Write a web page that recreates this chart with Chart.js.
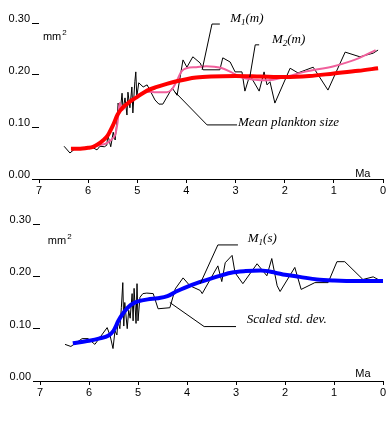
<!DOCTYPE html>
<html>
<head>
<meta charset="utf-8">
<script src="https://cdn.jsdelivr.net/npm/chart.js@4"></script>
<style>
  body { margin: 0; background: #fff; }
  #wrap { position: relative; width: 391px; height: 432px; }
  canvas { position: absolute; left: 0; }
</style>
</head>
<body>
<div id="wrap">
  <canvas id="topChart" width="391" height="200" style="top:0"></canvas>
  <canvas id="bottomChart" width="391" height="231" style="top:201px"></canvas>
</div>
<script>
// ages in Ma, sizes in mm^2
const ageTicks = [7, 6, 5, 4, 3, 2, 1, 0];
const sizeTicks = [0, 0.1, 0.2, 0.3];

const meanAge = [6.49, 6.37, 6.27, 6.10, 6.00, 5.90, 5.82, 5.76, 5.67, 5.62, 5.60, 5.54, 5.49, 5.45, 5.41, 5.39, 5.35, 5.31, 5.29, 5.25, 5.21, 5.19, 5.15, 5.11, 5.09, 5.05, 5.03, 5.01, 4.97, 4.88, 4.80, 4.64, 4.56, 4.48, 4.29, 4.19, 4.07, 3.99, 3.87, 3.72, 3.66, 3.32, 3.26, 3.11, 3.01, 2.87, 2.81, 2.71, 2.52, 2.42, 2.36, 2.30, 2.20, 1.89, 1.73, 1.42, 1.12, 0.77, 0.47, 0.20, 0.10];
const meanSize = [0.063, 0.050, 0.058, 0.060, 0.062, 0.060, 0.056, 0.063, 0.062, 0.065, 0.085, 0.062, 0.090, 0.075, 0.117, 0.146, 0.127, 0.165, 0.133, 0.156, 0.123, 0.167, 0.137, 0.177, 0.127, 0.187, 0.206, 0.158, 0.185, 0.177, 0.181, 0.152, 0.144, 0.144, 0.175, 0.161, 0.229, 0.215, 0.235, 0.223, 0.210, 0.210, 0.233, 0.225, 0.206, 0.206, 0.169, 0.200, 0.169, 0.206, 0.181, 0.187, 0.146, 0.213, 0.204, 0.215, 0.171, 0.244, 0.235, 0.242, 0.248];

const m1mAge = [6.35, 6.2, 6.0, 5.9, 5.8, 5.7, 5.6, 5.5, 5.4, 5.3, 5.2, 5.1, 5.0, 4.8, 4.6, 4.4, 4.2, 4.0, 3.8, 3.5, 3.0, 2.5, 2.0, 1.5, 1.0, 0.5, 0.1];
const m1m = [0.058, 0.058, 0.060, 0.062, 0.067, 0.074, 0.084, 0.102, 0.124, 0.137, 0.145, 0.152, 0.158, 0.170, 0.177, 0.183, 0.188, 0.192, 0.195, 0.197, 0.198, 0.197, 0.196, 0.198, 0.203, 0.208, 0.213];

const m2mAge = [6.3, 6.0, 5.8, 5.6, 5.5, 5.45, 5.4, 5.36, 5.31, 5.2, 5.0, 4.9, 4.8, 4.6, 4.4, 4.3, 4.2, 4.1, 4.0, 3.8, 3.6, 3.3, 3.1, 2.9, 2.6, 2.35, 2.0, 1.6, 1.0, 0.5, 0.15];
const m2m = [0.058, 0.060, 0.064, 0.070, 0.078, 0.085, 0.110, 0.146, 0.133, 0.145, 0.160, 0.166, 0.168, 0.167, 0.167, 0.172, 0.188, 0.207, 0.213, 0.215, 0.217, 0.214, 0.206, 0.196, 0.191, 0.190, 0.196, 0.206, 0.217, 0.232, 0.248];

const stdAge = [6.49, 6.37, 6.14, 6.02, 5.88, 5.63, 5.57, 5.51, 5.47, 5.43, 5.41, 5.37, 5.34, 5.31, 5.29, 5.27, 5.22, 5.19, 5.16, 5.12, 5.10, 5.08, 5.04, 5.02, 5.00, 4.96, 4.90, 4.82, 4.69, 4.59, 4.35, 4.24, 4.08, 3.94, 3.73, 3.69, 3.37, 3.29, 3.22, 3.08, 3.02, 2.86, 2.57, 2.37, 2.27, 2.16, 2.10, 1.80, 1.67, 1.39, 1.12, 0.94, 0.78, 0.41, 0.20, 0.06];
const stdSize = [0.070, 0.066, 0.081, 0.081, 0.070, 0.102, 0.087, 0.062, 0.096, 0.088, 0.115, 0.100, 0.140, 0.188, 0.105, 0.150, 0.100, 0.135, 0.120, 0.167, 0.115, 0.177, 0.110, 0.186, 0.115, 0.160, 0.167, 0.168, 0.167, 0.138, 0.140, 0.176, 0.197, 0.182, 0.173, 0.167, 0.220, 0.190, 0.226, 0.240, 0.207, 0.186, 0.224, 0.201, 0.234, 0.182, 0.171, 0.217, 0.175, 0.188, 0.188, 0.228, 0.228, 0.194, 0.199, 0.192];

const m1sAge = [6.33, 6.0, 5.8, 5.6, 5.5, 5.4, 5.3, 5.2, 5.1, 5.0, 4.8, 4.6, 4.4, 4.2, 4.0, 3.8, 3.5, 3.1, 2.8, 2.5, 2.2, 2.0, 1.7, 1.35, 1.0, 0.5, 0.0];
const m1s = [0.072, 0.077, 0.081, 0.087, 0.096, 0.115, 0.130, 0.141, 0.148, 0.152, 0.156, 0.158, 0.162, 0.172, 0.180, 0.187, 0.196, 0.207, 0.210, 0.211, 0.207, 0.203, 0.199, 0.194, 0.192, 0.191, 0.191];

const pairs = (xs, ys) => xs.map((x, i) => ({ x: x, y: ys[i] }));

const serif = "italic 13px 'Liberation Serif', 'DejaVu Serif', serif";
const sans = "11px 'Liberation Sans', Arial, sans-serif";

// labels with leader lines, positioned in data units
function notesPlugin(notes, unit, maPos) {
  return {
    id: "notes",
    afterDatasetsDraw(chart) {
      const ctx = chart.ctx;
      const xs = chart.scales.x, ys = chart.scales.y;
      ctx.save();
      ctx.strokeStyle = "#000";
      ctx.lineWidth = 1;
      ctx.fillStyle = "#000";
      notes.forEach(n => {
        ctx.beginPath();
        n.path.forEach((p, i) => {
          const px = xs.getPixelForValue(p[0]), py = ys.getPixelForValue(p[1]);
          if (i === 0) ctx.moveTo(px, py); else ctx.lineTo(px, py);
        });
        ctx.stroke();
        let tx = xs.getPixelForValue(n.at[0]);
        const ty = ys.getPixelForValue(n.at[1]);
        ctx.textBaseline = "alphabetic";
        ctx.textAlign = "left";
        n.parts.forEach(part => {
          if (part.sub) {
            ctx.font = "italic 9px 'Liberation Serif', serif";
            ctx.fillText(part.sub, tx, ty + 3);
            tx += ctx.measureText(part.sub).width;
          } else {
            ctx.font = serif;
            ctx.fillText(part.t, tx, ty);
            tx += ctx.measureText(part.t).width;
          }
        });
      });
      // unit and axis title
      ctx.font = sans;
      ctx.textAlign = "center";
      ctx.textBaseline = "middle";
      ctx.fillText("Ma", xs.getPixelForValue(maPos[0]), ys.getPixelForValue(maPos[1]));
      ctx.textAlign = "left";
      ctx.textBaseline = "alphabetic";
      const ux = xs.getPixelForValue(unit[0]), uy = ys.getPixelForValue(unit[1]);
      ctx.fillText("mm", ux, uy);
      const w = ctx.measureText("mm").width;
      ctx.font = "8px 'Liberation Sans', Arial, sans-serif";
      ctx.fillText("2", ux + w + 1, uy - 5);
      ctx.restore();
    }
  };
}

function makeChart(id, datasets, notes, yWidth, padBottom, unit, maPos) {
  return new Chart(document.getElementById(id), {
    type: "line",
    data: { datasets: datasets },
    options: {
      responsive: false,
      animation: false,
      layout: { padding: { top: 23, right: 8, bottom: padBottom, left: 0 } },
      plugins: { legend: { display: false }, tooltip: { enabled: false } },
      elements: { point: { radius: 0 } },
      scales: {
        x: {
          type: "linear",
          reverse: true,
          min: ageTicks[ageTicks.length - 1],
          max: ageTicks[0],
          afterBuildTicks: s => { s.ticks = ageTicks.map(v => ({ value: v })); },
          afterFit: s => { s.height = 21; },
          border: { display: true, color: "#000", width: 1 },
          grid: { drawOnChartArea: false, drawTicks: true, tickLength: 4, color: "#000" },
          ticks: { color: "#000", font: { family: "'Liberation Sans', Arial, sans-serif", size: 11 }, padding: 1, maxRotation: 0 }
        },
        y: {
          min: sizeTicks[0],
          max: sizeTicks[sizeTicks.length - 1],
          afterBuildTicks: s => { s.ticks = sizeTicks.map(v => ({ value: v })); },
          afterFit: s => { s.width = yWidth; },
          border: { display: false },
          grid: { drawOnChartArea: false, drawTicks: true, tickLength: 7, color: "#000" },
          ticks: {
            color: "#000",
            font: { family: "'Liberation Sans', Arial, sans-serif", size: 11 },
            padding: 2,
            labelOffset: -4,
            callback: v => v.toFixed(2)
          }
        }
      }
    },
    plugins: [notesPlugin(notes, unit, maPos)]
  });
}

makeChart("topChart", [
  { data: pairs(m1mAge, m1m), borderColor: "#ff0000", borderWidth: 4, cubicInterpolationMode: "monotone", order: 1 },
  { data: pairs(m2mAge, m2m), borderColor: "#f0609c", borderWidth: 2, cubicInterpolationMode: "monotone", order: 2 },
  { data: pairs(meanAge, meanSize), borderColor: "#000", borderWidth: 1, tension: 0, order: 3 }
], [
  { parts: [{ t: "M" }, { sub: "1" }, { t: "(m)" }], at: [3.11, 0.302], path: [[3.32, 0.298], [3.48, 0.298], [3.68, 0.21]] },
  { parts: [{ t: "M" }, { sub: "2" }, { t: "(m)" }], at: [2.26, 0.262], path: [[2.52, 0.258], [2.60, 0.258], [2.71, 0.196]] },
  { parts: [{ t: "Mean plankton size" }], at: [2.95, 0.102], path: [[2.97, 0.104], [3.58, 0.104], [4.23, 0.167]] }
], 39, 0, [6.92, 0.267], [0.41, 0.01]);

makeChart("bottomChart", [
  { data: pairs(m1sAge, m1s), borderColor: "#0000ff", borderWidth: 4, cubicInterpolationMode: "monotone", order: 1 },
  { data: pairs(stdAge, stdSize), borderColor: "#000", borderWidth: 1, tension: 0, order: 2 }
], [
  { parts: [{ t: "M" }, { sub: "1" }, { t: "(s)" }], at: [2.76, 0.266], path: [[2.96, 0.26], [3.37, 0.26], [3.73, 0.186]] },
  { parts: [{ t: "Scaled std. dev." }], at: [2.78, 0.110], path: [[3.0, 0.104], [3.65, 0.104], [4.35, 0.150]] }
], 40, 30, [6.84, 0.262], [0.41, 0.014]);
</script>
</body>
</html>
